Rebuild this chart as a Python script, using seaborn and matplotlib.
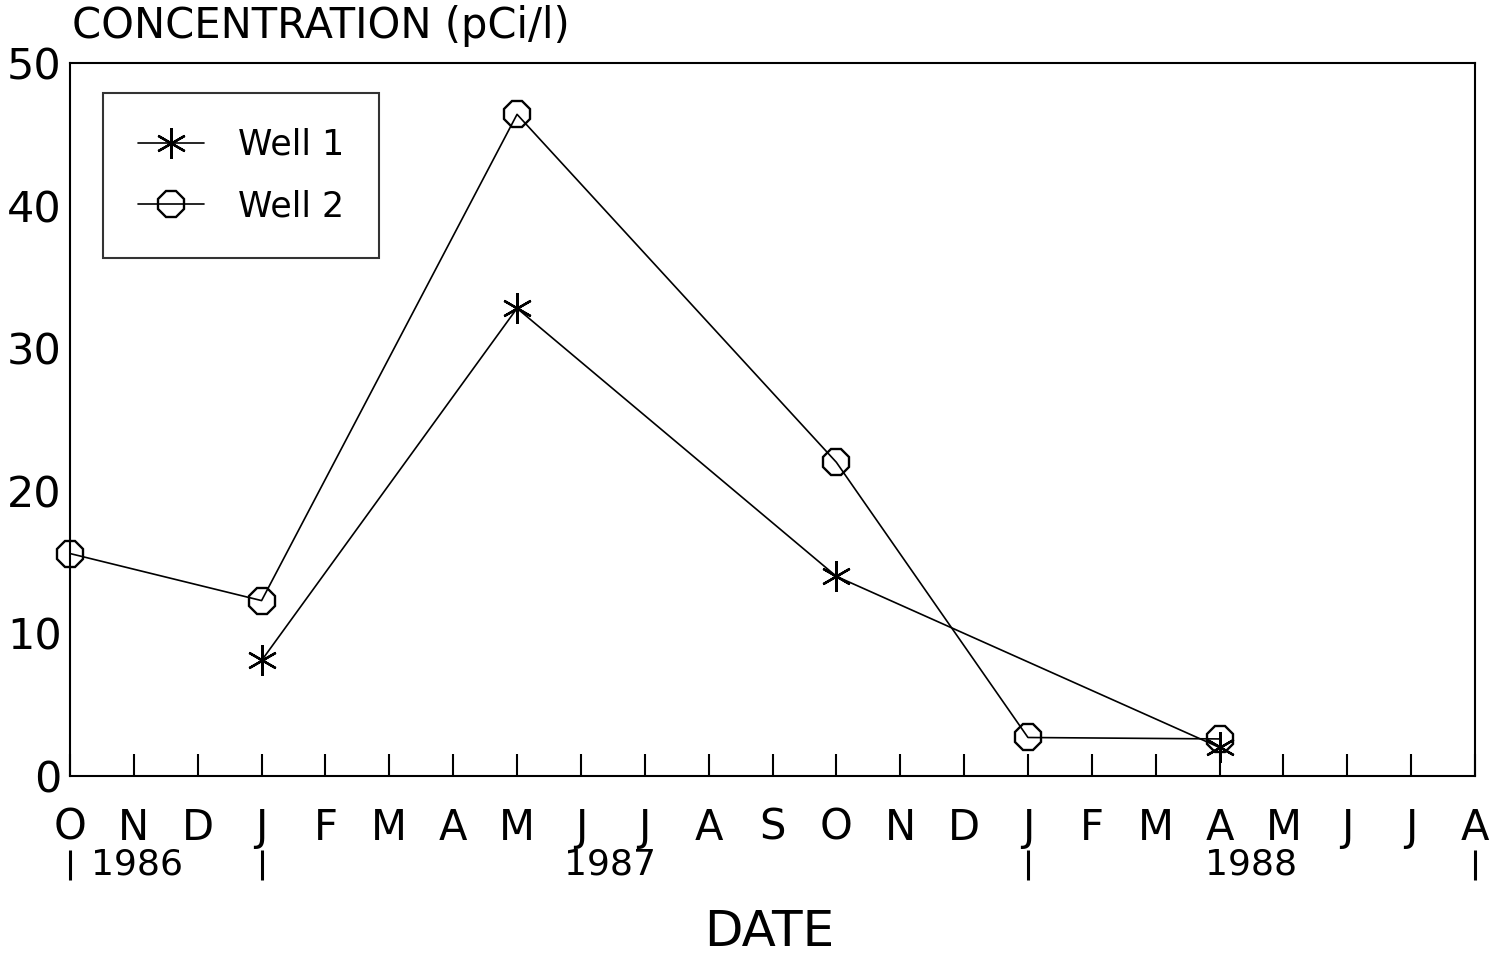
import numpy as np
import pandas as pd
import seaborn as sns
import matplotlib.pyplot as plt
from matplotlib.lines import Line2D

months = ['O', 'N', 'D', 'J', 'F', 'M', 'A', 'M', 'J', 'J', 'A', 'S',
          'O', 'N', 'D', 'J', 'F', 'M', 'A', 'M', 'J', 'J', 'A']

# month index counted from Oct 1986
well1_month = [3, 7, 12, 18]
well1_conc = [8.1, 32.8, 14.0, 2.0]
well2_month = [0, 3, 7, 12, 15, 18]
well2_conc = [15.6, 12.3, 46.4, 22.0, 2.7, 2.6]

years = ['1986', '1987', '1988']
year_label_pos = [1.05, 8.45, 18.5]
year_breaks = [0, 3, 15, 22]

sns.set_style('white')
plt.rcParams['font.family'] = ['DejaVu Sans']
plt.rcParams['text.color'] = 'black'
plt.rcParams['xtick.color'] = 'black'
plt.rcParams['ytick.color'] = 'black'

fig = plt.figure(figsize=(14.97, 9.6), dpi=100)
ax = fig.add_axes([70 / 1497, 1 - 776 / 960, 1405 / 1497, 713 / 960])

star = (6, 2, 0)
style = dict(color='black', linewidth=1.2, markeredgewidth=1.7,
             markeredgecolor='black')
sns.lineplot(x=well1_month, y=well1_conc, marker=star, markersize=22,
             clip_on=False, ax=ax, **style)
sns.lineplot(x=well2_month, y=well2_conc, marker='8', markersize=20,
             fillstyle='none', clip_on=False, ax=ax, **style)

ax.set_xlim(0, 22)
ax.set_ylim(0, 50)
ax.set_xticks(range(len(months)))
ax.set_xticklabels(months)
ax.set_yticks([0, 10, 20, 30, 40, 50])
ax.tick_params(axis='x', bottom=True, direction='in', length=16, width=1.5,
               pad=22, labelsize=30, color='black')
ax.tick_params(axis='y', left=False, length=0, pad=6, labelsize=31)
ax.set_xlabel('')
ax.set_ylabel('')
for s in ax.spines.values():
    s.set_color('black')
    s.set_linewidth(1.5)

trans = ax.get_xaxis_transform()
ax.vlines(year_breaks, -0.146, -0.104, transform=trans, color='black',
          linewidth=2.2, clip_on=False)
for lab, xp in zip(years, year_label_pos):
    ax.text(xp, -0.124, lab, transform=trans, ha='center', va='center',
            fontsize=26, clip_on=False)

ax.text(0.498, -0.219, 'DATE', transform=ax.transAxes, ha='center',
        va='center', fontsize=36)
fig.text(72 / 1497, 1 - 26 / 960, 'CONCENTRATION (pCi/l)', ha='left',
         va='center', fontsize=30)

handles = [
    Line2D([], [], marker=star, markersize=22, **style),
    Line2D([], [], marker='8', markersize=20, fillstyle='none', **style),
]
leg = ax.legend(handles, ['Well 1', 'Well 2'], loc='upper left',
                bbox_to_anchor=(33 / 1405, 1 - 30 / 713), fontsize=25,
                frameon=True, fancybox=False, handlelength=1.9,
                borderpad=1.0, labelspacing=0.8, handletextpad=1.0,
                borderaxespad=0)
leg.get_frame().set_edgecolor('black')
leg.get_frame().set_linewidth(1.5)

fig.savefig('out.png', dpi=100)
